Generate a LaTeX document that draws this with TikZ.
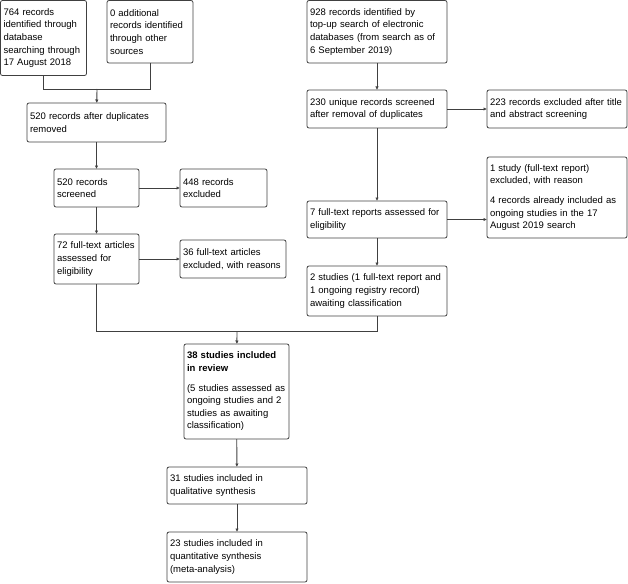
\documentclass[tikz,border=0pt]{standalone}
\usepackage{fontspec}
\setmainfont{Liberation Sans}
\usetikzlibrary{arrows.meta}

\tikzset{
    box/.style={draw=black!75, line width=0.8pt, rounded corners=2pt, anchor=north west, align=left,
        inner xsep=3pt, inner ysep=2pt, outer sep=0pt,
        font=\fontsize{9.5}{12.6}\selectfont},
    link/.style={draw=black!75, line width=0.9pt},
    arr/.style={link, -{Latex[length=3.5pt,width=3.5pt]}}
}

\begin{document}
\begin{tikzpicture}[x=1pt, y=-1pt]
    \useasboundingbox (0,0) rectangle (628,583);

    % Original search
    \node[box, text width=80pt, minimum height=75pt] (ident) at (0.5,0.5) {764 records\\identified through\\database\\searching through\\17 August 2018};
    \node[box, text width=80pt, minimum height=62.5pt] (other) at (107,0.5) {0 additional\\records identified\\through other\\sources};
    \node[box, text width=133pt, minimum height=39pt] (dupl) at (27,103) {520 records after duplicates\\removed};
    \node[box, text width=79pt, minimum height=38pt] (screen) at (54,169) {520 records\\screened};
    \node[box, text width=81pt, minimum height=38pt] (excl) at (180,169) {448 records\\excluded};
    \node[box, text width=79pt, minimum height=50pt] (fulltext) at (54,234) {72 full-text articles\\assessed for\\eligibility};
    \node[box, text width=100pt, minimum height=38pt] (ftexcl) at (180,240) {36 full-text articles\\excluded, with reasons};

    % Top-up search
    \node[box, text width=134pt, minimum height=62.5pt] (topup) at (307,0.5) {928 records identified by\\top-up search of electronic\\databases (from search as of\\6 September 2019)};
    \node[box, text width=134pt, minimum height=38pt] (unique) at (307,90) {230 unique records screened\\after removal of duplicates};
    \node[box, text width=134pt, minimum height=38pt] (taexcl) at (487,90) {223 records excluded after title\\and abstract screening};
    \node[box, text width=134pt, minimum height=81pt] (rpexcl) at (487,157) {1 study (full-text report)\\excluded, with reason\\[7pt]4 records already included as\\ongoing studies in the 17\\August 2019 search};
    \node[box, text width=134pt, minimum height=37pt] (reports) at (307,201) {7 full-text reports assessed for\\eligibility};
    \node[box, text width=134pt, minimum height=50pt] (awaiting) at (307,266) {2 studies (1 full-text report and\\1 ongoing registry record)\\awaiting classification};

    % Included
    \node[box, text width=99pt, minimum height=95pt] (review) at (184,344) {\textbf{38 studies included}\\\textbf{in review}\\[7pt](5 studies assessed as\\ongoing studies and 2\\studies as awaiting\\classification)};
    \node[box, text width=134pt, minimum height=37pt] (qual) at (167,467) {31 studies included in\\qualitative synthesis};
    \node[box, text width=134pt, minimum height=50pt] (quant) at (167,532) {23 studies included in\\quantitative synthesis\\(meta-analysis)};

    % Junctions
    \coordinate (jtop) at (97,89);
    \coordinate (jbot) at (237,331);

    % Connectors
    \draw[link] (ident.south) |- (jtop);
    \draw[link] (other.south) |- (jtop);
    \draw[arr] (jtop) -- (dupl);
    \draw[arr] (dupl) -- (screen);
    \draw[arr] (screen) -- (excl);
    \draw[arr] (screen) -- (fulltext);
    \draw[arr] (fulltext) -- (ftexcl.west |- fulltext.east);
    \draw[arr] (topup) -- (unique);
    \draw[arr] (unique) -- (taexcl);
    \draw[arr] (unique) -- (reports);
    \draw[arr] (reports.east) -- (reports.east -| rpexcl.west);
    \draw[arr] (reports) -- (awaiting);
    \draw[link] (fulltext.south) |- (jbot);
    \draw[link] (awaiting.south) |- (jbot);
    \draw[arr] (jbot) -- (review);
    \draw[arr] (review) -- (qual);
    \draw[arr] (qual) -- (quant);
\end{tikzpicture}
\end{document}
